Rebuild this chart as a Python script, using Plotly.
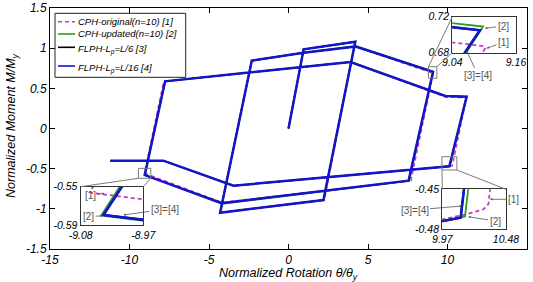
import plotly.graph_objects as go

# ---------------- data ----------------
legend_labels = ["CPH-original(n=10) [1]", "CPH-updated(n=10) [2]",
                 "FLPH-L<sub>p</sub>=L/6 [3]", "FLPH-L<sub>p</sub>=L/16 [4]"]

# [1] CPH-original (n=10)
cph_orig_theta = [0, 0.95, 4.20, 2.25, -4.30, -2.31, 0.94, 4.22, 9.098, 9.102, 7.70,
                  -4.19, -9.060, -9.064, -7.85, 3.90, 9.90, 11.20, 10.352, 10.34,
                  10.30, 10.15, 9.97, -3.46, -7.87, -11.20]
cph_orig_m = [0, 0.985, 1.080, -0.89, -1.048, 0.844, 0.944, 1.020, 0.6874, 0.6849, -0.65,
              -0.92, -0.5565, -0.5555, 0.585, 0.828, 0.39, 0.385, -0.45, -0.461,
              -0.465, -0.469, -0.4725, -0.714, -0.40, -0.40]

# [2] CPH-updated (n=10)
cph_upd_theta = [0, 0.95, 4.20, 2.20, -4.30, -2.31, 0.94, 4.22, 9.098, 7.60,
                 -4.19, -9.044, -7.78, 3.90, 9.86, 11.22, 10.152, -3.46, -7.87, -11.20]
cph_upd_m = [0, 0.985, 1.080, -0.89, -1.048, 0.844, 0.944, 1.030, 0.709, -0.65,
             -0.94, -0.580, 0.587, 0.828, 0.405, 0.396, -0.4703, -0.712, -0.40, -0.40]

# [3] FLPH Lp=L/6  (identical to [4])
flph6_theta = [0, 0.95, 4.20, 2.20, -4.30, -2.31, 0.94, 4.22, 9.092, 7.55,
               -4.19, -9.040, -7.76, 3.90, 9.86, 11.20, 10.117, -3.46, -7.87, -11.20]
flph6_m = [0, 0.985, 1.080, -0.89, -1.048, 0.844, 0.944, 1.020, 0.705, -0.65,
           -0.93, -0.5795, 0.587, 0.828, 0.405, 0.396, -0.4713, -0.712, -0.40, -0.40]

# [4] FLPH Lp=L/16
flph16_theta = [0, 0.95, 4.20, 2.20, -4.30, -2.31, 0.94, 4.22, 9.092, 7.55,
                -4.19, -9.040, -7.76, 3.90, 9.86, 11.20, 10.117, -3.46, -7.87, -11.20]
flph16_m = [0, 0.985, 1.080, -0.89, -1.048, 0.844, 0.944, 1.020, 0.705, -0.65,
            -0.93, -0.5795, 0.587, 0.828, 0.405, 0.396, -0.4713, -0.712, -0.40, -0.40]

x_ticks = [-15, -10, -5, 0, 5, 10, 15]
x_tick_labels = ["-15", "-10", "-5", "0", "5", "10", "15"]
y_ticks = [-1.5, -1, -0.5, 0, 0.5, 1, 1.5]
y_tick_labels = ["-1.5", "-1", "-0.5", "0", "0.5", "1", "1.5"]

inset1_x = [9.04, 9.16]
inset1_y = [0.68, 0.72]
inset1_xlabels = ["9.04", "9.16"]
inset1_ylabels = ["0.68", "0.72"]
inset2_x = [9.97, 10.48]
inset2_y = [-0.48, -0.45]
inset2_xlabels = ["9.97", "10.48"]
inset2_ylabels = ["-0.48", "-0.45"]
inset3_x = [-9.08, -8.97]
inset3_y = [-0.59, -0.55]
inset3_xlabels = ["-9.08", "-8.97"]
inset3_ylabels = ["-0.59", "-0.55"]

# ---------------- geometry / styles ----------------
W, H = 533, 282
ML, MR, MT, MB = 50, 6, 8, 33
PW, PH = W - ML - MR, H - MT - MB
XR, YR = [-15, 15], [-1.5, 1.5]


def pp(px, py):
    return (px - ML) / PW, (H - MB - py) / PH


def d2px(x, y):
    return ML + (x - XR[0]) / (XR[1] - XR[0]) * PW, MT + (YR[1] - y) / (YR[1] - YR[0]) * PH


FONT = "Liberation Sans, Arial, sans-serif"
GRAY = "#7a7a7a"
series = [
    (cph_orig_theta, cph_orig_m, dict(color="#CC33CC", dash="4px,3px"), 1.5, 1.8),
    (cph_upd_theta, cph_upd_m, dict(color="#22A022"), 1.5, 1.8),
    (flph6_theta, flph6_m, dict(color="#000000"), 1.5, 2.0),
    (flph16_theta, flph16_m, dict(color="#1414C8"), 2.5, 2.6),
]

fig = go.Figure()
axes_sets = [("x", "y")] + [("x%d" % i, "y%d" % i) for i in (2, 3, 4)]
for k, (xa, ya) in enumerate(axes_sets):
    for (xs, ys, st, wm, wi), name in zip(series, legend_labels):
        line = dict(st)
        line["width"] = wm if k == 0 else wi
        fig.add_trace(go.Scatter(x=xs, y=ys, mode="lines", line=line, name=name,
                                 showlegend=False, xaxis=xa, yaxis=ya, hoverinfo="skip"))

inset_px = [(452.3, 16.7, 516, 52.7), (442.3, 189.3, 506, 229.3), (80.7, 186.7, 143.3, 225)]
inset_ranges = [(inset1_x, inset1_y, inset1_xlabels, inset1_ylabels),
                (inset2_x, inset2_y, inset2_xlabels, inset2_ylabels),
                (inset3_x, inset3_y, inset3_xlabels, inset3_ylabels)]

layout = dict(
    template="none",
    width=W, height=H, margin=dict(l=ML, r=MR, t=MT, b=MB, pad=0, autoexpand=False),
    paper_bgcolor="white", plot_bgcolor="white", showlegend=False,
    font=dict(family=FONT, color="black"),
    xaxis=dict(range=XR, domain=[0, 1], tickvals=x_ticks, ticktext=x_tick_labels,
               ticks="inside", ticklen=5, tickcolor="black", showline=True, linecolor="black",
               linewidth=1, mirror="ticks", showgrid=False, zeroline=False, automargin=False,
               tickfont=dict(size=12, style="italic", family=FONT)),
    yaxis=dict(range=YR, domain=[0, 1], tickvals=y_ticks, ticktext=y_tick_labels,
               ticks="inside", ticklen=5, tickcolor="black", showline=True, linecolor="black",
               linewidth=1, mirror="ticks", showgrid=False, zeroline=False, automargin=False,
               tickfont=dict(size=12, style="italic", family=FONT)),
)
for i, ((x0, y0, x1, y1), (xr, yr, xl, yl)) in enumerate(zip(inset_px, inset_ranges)):
    n = i + 2
    dx0, dy0 = pp(x0, y1)
    dx1, dy1 = pp(x1, y0)
    ex = (xr[1] - xr[0]) * 1e-6
    ey = (yr[1] - yr[0]) * 1e-6
    layout["xaxis%d" % n] = dict(domain=[dx0, dx1], anchor="y%d" % n,
                                 range=[xr[0] - ex, xr[1] + ex], tickvals=xr, ticktext=xl,
                                 ticks="", showline=True, linecolor="#333333", linewidth=1.3,
                                 mirror=True, showgrid=False, zeroline=False, automargin=False,
                                 tickfont=dict(size=10.5, style="italic", family=FONT))
    layout["yaxis%d" % n] = dict(domain=[dy0, dy1], anchor="x%d" % n,
                                 range=[yr[0] - ey, yr[1] + ey], tickvals=yr, ticktext=yl,
                                 ticks="", showline=True, linecolor="#333333", linewidth=1.3,
                                 mirror=True, showgrid=False, zeroline=False, automargin=False,
                                 tickfont=dict(size=10.5, style="italic", family=FONT))
fig.update_layout(**layout)

shapes = []
annotations = []

# zoom marker boxes (data coords) and connectors
zoom_boxes = [([8.8, 9.33], [0.625, 0.769]), ([9.65, 10.59], [-0.517, -0.351]),
              ([-9.44, -8.66], [-0.62, -0.496])]
for bx, by in zoom_boxes:
    shapes.append(dict(type="rect", xref="x", yref="y", x0=bx[0], x1=bx[1], y0=by[0], y1=by[1],
                       line=dict(color=GRAY, width=1)))


def conn(p_from, p_to):
    a = pp(*p_from)
    b = pp(*p_to)
    shapes.append(dict(type="line", xref="paper", yref="paper", x0=a[0], y0=a[1], x1=b[0], y1=b[1],
                       line=dict(color=GRAY, width=1)))


b1 = zoom_boxes[0]
conn(d2px(b1[0][0], b1[1][1]), (inset_px[0][0], inset_px[0][1]))
conn(d2px(b1[0][1], b1[1][1]), (inset_px[0][0], inset_px[0][3]))
b2 = zoom_boxes[1]
conn(d2px(b2[0][0], b2[1][0]), (inset_px[1][0], inset_px[1][1]))
conn(d2px(b2[0][1], b2[1][0]), (inset_px[1][2], inset_px[1][1]))
b3 = zoom_boxes[2]
conn(d2px(b3[0][0], b3[1][0]), (inset_px[2][0], inset_px[2][1]))
conn(d2px(b3[0][1], b3[1][0]), (inset_px[2][2], inset_px[2][1]))

# inset call-out labels: (text, head_px, text_px)
callouts = [
    ("[2]", (485, 28.3), (503, 26)),
    ("[1]", (486.7, 48.3), (503.5, 42.3)),
    ("[3]=[4]", (466.5, 50.5), (477.8, 75)),
    ("[1]", (490, 199.3), (513.3, 199.3)),
    ("[2]", (468.3, 216.7), (495, 221)),
    ("[3]=[4]", (462, 206), (414.5, 210)),
    ("[1]", (104.3, 193.3), (90, 195)),
    ("[2]", (102.7, 215.7), (88.5, 216.7)),
    ("[3]=[4]", (123.3, 215), (164.7, 209.3)),
]
for txt, head, tpos in callouts:
    hx, hy = pp(*head)
    annotations.append(dict(text=txt, xref="paper", yref="paper", x=hx, y=hy,
                            ax=tpos[0] - head[0], ay=tpos[1] - head[1],
                            showarrow=True, arrowhead=2, arrowsize=0.6, arrowwidth=0.8,
                            arrowcolor="#555555", font=dict(size=10, color="#555555", family=FONT)))

# manual legend
lx0, ly0 = pp(55, 13.3)
lx1, ly1 = pp(185.7, 77.3)
shapes.append(dict(type="rect", xref="paper", yref="paper", x0=lx0, y0=ly1, x1=lx1, y1=ly0,
                   fillcolor="white", line=dict(color="#222222", width=1), layer="above"))
row_y = [21.7, 34.0, 47.3, 66.0]
text_dy = [0, 0, 2.5, 2.5]
for (xs, ys, st, wm, wi), name, ry, tdy in zip(series, legend_labels, row_y, text_dy):
    a = pp(58, ry)
    b = pp(75, ry)
    ln = dict(st)
    ln["width"] = 1.6
    shapes.append(dict(type="line", xref="paper", yref="paper", x0=a[0], y0=a[1], x1=b[0], y1=b[1],
                       line=ln, layer="above"))
    t = pp(76, ry + tdy)
    annotations.append(dict(text=name, xref="paper", yref="paper", x=t[0], y=t[1],
                            xanchor="left", yanchor="middle", showarrow=False,
                            font=dict(size=9.5, style="italic", family=FONT, color="black")))

# axis titles
tx = pp(288, 274)
annotations.append(dict(text="Normalized Rotation θ/θ<sub>y</sub>", xref="paper", yref="paper",
                        x=tx[0], y=tx[1], showarrow=False, xanchor="center", yanchor="middle",
                        font=dict(size=12.5, style="italic", family=FONT, color="black")))
ty = pp(12, 126)
annotations.append(dict(text="Normalized Moment M/M<sub>y</sub>", xref="paper", yref="paper",
                        x=ty[0], y=ty[1], showarrow=False, textangle=-90, xanchor="center",
                        yanchor="middle",
                        font=dict(size=12.5, style="italic", family=FONT, color="black")))

fig.update_layout(shapes=shapes, annotations=annotations)
fig.write_html("out.html")
